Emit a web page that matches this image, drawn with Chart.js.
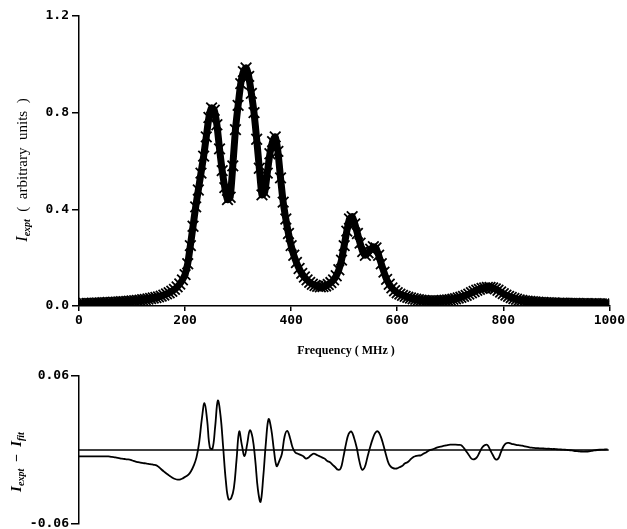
<!DOCTYPE html>
<html lang="en">

<head>
    <meta charset="UTF-8" />
    <title>Iexpt spectrum and residual</title>
    <script src="https://cdn.jsdelivr.net/npm/chart.js"></script>
    <style>
        body {
            margin: 0;
            background: #fff;
        }

        #wrap {
            position: relative;
            width: 627px;
            height: 529px;
            overflow: hidden;
        }

        canvas {
            position: absolute;
            left: 0;
        }
    </style>
</head>

<body>
    <div id="wrap">
        <canvas id="specChart" width="627" height="360" style="top:0"></canvas>
        <canvas id="residChart" width="627" height="185" style="top:360px"></canvas>
    </div>

    <script>
        // frequency (MHz), every 5 MHz
        const freqs = [
            0, 5, 10, 15, 20, 25, 30, 35, 40, 45, 50, 55, 60, 65, 70, 75, 80, 85, 90, 95,
            100, 105, 110, 115, 120, 125, 130, 135, 140, 145, 150, 155, 160, 165, 170, 175, 180, 185, 190, 195,
            200, 205, 210, 215, 220, 225, 230, 235, 240, 245, 250, 255, 260, 265, 270, 275, 280, 285, 290, 295,
            300, 305, 310, 315, 320, 325, 330, 335, 340, 345, 350, 355, 360, 365, 370, 375, 380, 385, 390, 395,
            400, 405, 410, 415, 420, 425, 430, 435, 440, 445, 450, 455, 460, 465, 470, 475, 480, 485, 490, 495,
            500, 505, 510, 515, 520, 525, 530, 535, 540, 545, 550, 555, 560, 565, 570, 575, 580, 585, 590, 595,
            600, 605, 610, 615, 620, 625, 630, 635, 640, 645, 650, 655, 660, 665, 670, 675, 680, 685, 690, 695,
            700, 705, 710, 715, 720, 725, 730, 735, 740, 745, 750, 755, 760, 765, 770, 775, 780, 785, 790, 795,
            800, 805, 810, 815, 820, 825, 830, 835, 840, 845, 850, 855, 860, 865, 870, 875, 880, 885, 890, 895,
            900, 905, 910, 915, 920, 925, 930, 935, 940, 945, 950, 955, 960, 965, 970, 975, 980, 985, 990, 995,
            1000
        ];

        // I_expt (arbitrary units)
        const intensity = [
            0.010, 0.010, 0.011, 0.011, 0.011, 0.012, 0.012, 0.013, 0.013, 0.014,
            0.014, 0.015, 0.015, 0.016, 0.016, 0.017, 0.018, 0.018, 0.019, 0.020,
            0.021, 0.022, 0.023, 0.024, 0.026, 0.027, 0.029, 0.031, 0.033, 0.035,
            0.038, 0.041, 0.045, 0.050, 0.055, 0.061, 0.069, 0.079, 0.091, 0.108,
            0.130, 0.175, 0.250, 0.330, 0.410, 0.480, 0.550, 0.620, 0.700, 0.780,
            0.820, 0.810, 0.750, 0.650, 0.560, 0.490, 0.440, 0.450, 0.580, 0.730,
            0.830, 0.920, 0.970, 0.985, 0.950, 0.880, 0.800, 0.690, 0.570, 0.460,
            0.470, 0.550, 0.630, 0.680, 0.700, 0.640, 0.530, 0.430, 0.360, 0.300,
            0.250, 0.210, 0.180, 0.155, 0.135, 0.120, 0.108, 0.098, 0.090, 0.085,
            0.081, 0.079, 0.080, 0.083, 0.089, 0.097, 0.108, 0.125, 0.150, 0.190,
            0.250, 0.310, 0.360, 0.370, 0.340, 0.300, 0.260, 0.225, 0.210, 0.220,
            0.235, 0.245, 0.240, 0.210, 0.175, 0.140, 0.110, 0.090, 0.075, 0.063,
            0.055, 0.049, 0.044, 0.040, 0.036, 0.033, 0.030, 0.028, 0.026, 0.024,
            0.023, 0.022, 0.021, 0.021, 0.021, 0.021, 0.022, 0.023, 0.024, 0.025,
            0.026, 0.028, 0.030, 0.033, 0.036, 0.040, 0.044, 0.049, 0.055, 0.060,
            0.065, 0.069, 0.073, 0.075, 0.077, 0.077, 0.075, 0.071, 0.065, 0.058,
            0.051, 0.045, 0.040, 0.035, 0.031, 0.028, 0.025, 0.023, 0.021, 0.020,
            0.019, 0.018, 0.017, 0.016, 0.015, 0.015, 0.014, 0.014, 0.013, 0.013,
            0.012, 0.012, 0.012, 0.012, 0.011, 0.011, 0.011, 0.011, 0.011, 0.010,
            0.010, 0.010, 0.010, 0.010, 0.010, 0.010, 0.009, 0.009, 0.009, 0.009,
            0.009
        ];

        // I_expt - I_fit, from 0 to 990 MHz
        const residual = [
            -0.0052, -0.0052, -0.0052, -0.0052, -0.0052, -0.0052, -0.0052, -0.0052, -0.0052, -0.0052,
            -0.0052, -0.0052, -0.0055, -0.0058, -0.0062, -0.0066, -0.0070, -0.0073, -0.0076, -0.0078,
            -0.0085, -0.0092, -0.0098, -0.0103, -0.0106, -0.0109, -0.0112, -0.0116, -0.0120, -0.0125,
            -0.0140, -0.0160, -0.0178, -0.0195, -0.0210, -0.0225, -0.0235, -0.0240, -0.0238, -0.0228,
            -0.0215, -0.0200, -0.0170, -0.0125, -0.0060, 0.0060, 0.0250, 0.0380, 0.0240, 0.0020,
            0.0010, 0.0190, 0.0400, 0.0280, 0.0020, -0.0250, -0.0400, -0.0390, -0.0310, -0.0080,
            0.0150, 0.0040, -0.0050, 0.0050, 0.0160, 0.0100, -0.0080, -0.0320, -0.0420, -0.0220,
            0.0060, 0.0250, 0.0170, 0.0000, -0.0130, -0.0090, -0.0030, 0.0110, 0.0155, 0.0100,
            0.0020, -0.0020, -0.0030, -0.0040, -0.0050, -0.0070, -0.0060, -0.0040, -0.0030, -0.0040,
            -0.0050, -0.0060, -0.0070, -0.0090, -0.0100, -0.0120, -0.0140, -0.0160, -0.0150, -0.0060,
            0.0050, 0.0130, 0.0150, 0.0100, 0.0020, -0.0090, -0.0160, -0.0140, -0.0060, 0.0020,
            0.0090, 0.0140, 0.0150, 0.0110, 0.0040, -0.0040, -0.0110, -0.0140, -0.0150, -0.0150,
            -0.0140, -0.0130, -0.0110, -0.0100, -0.0080, -0.0060, -0.0050, -0.0045, -0.0043, -0.0030,
            -0.0020, -0.0005, 0.0003, 0.0010, 0.0020, 0.0025, 0.0030, 0.0035, 0.0040, 0.0043,
            0.0043, 0.0043, 0.0042, 0.0040, 0.0020, -0.0010, -0.0040, -0.0070, -0.0075, -0.0060,
            -0.0020, 0.0020, 0.0040, 0.0040, 0.0000, -0.0040, -0.0075, -0.0070, -0.0020, 0.0030,
            0.0055, 0.0057, 0.0050, 0.0045, 0.0040, 0.0038, 0.0035, 0.0030, 0.0025, 0.0020,
            0.0018, 0.0016, 0.0015, 0.0013, 0.0012, 0.0010, 0.0010, 0.0008, 0.0008, 0.0006,
            0.0005, 0.0003, 0.0002, 0.0000, -0.0002, -0.0005, -0.0008, -0.0010, -0.0012, -0.0013,
            -0.0012, -0.0010, -0.0007, -0.0003, 0.0000, 0.0002, 0.0003, 0.0004, 0.0005
        ];

        // zero reference line of the residual panel
        const zeroLineX = [0, 992];
        const zeroLineY = [0, 0];

        const freqTicks = [0, 200, 400, 600, 800, 1000];
        const intensityTicks = [0, 0.4, 0.8, 1.2];
        const residualTicks = [-0.06, 0.06];

        const tickFont = { family: '"DejaVu Sans Mono"', weight: 'bold', size: 13 };
        const serif = '"Liberation Serif", "DejaVu Serif", serif';

        // draws text made of several pieces (main letter + subscript), optionally rotated
        function drawRich(ctx, parts, cx, cy, rotate) {
            ctx.save();
            ctx.translate(cx, cy);
            if (rotate) ctx.rotate(-Math.PI / 2);
            ctx.fillStyle = '#000';
            ctx.textBaseline = 'alphabetic';
            let total = 0;
            parts.forEach(p => {
                ctx.font = p.font;
                total += ctx.measureText(p.t).width;
            });
            let x = -total / 2;
            parts.forEach(p => {
                ctx.font = p.font;
                ctx.fillText(p.t, x, 5 + (p.dy || 0));
                x += ctx.measureText(p.t).width;
            });
            ctx.restore();
        }

        const specTitles = {
            id: 'specTitles',
            afterDraw(chart) {
                const ctx = chart.ctx;
                drawRich(ctx, [
                    { t: 'I', font: 'italic 16px ' + serif },
                    { t: 'expt', font: 'italic bold 10px ' + serif, dy: 3 },
                    { t: '  (  arbitrary  units  )', font: '15px ' + serif }
                ], 22, 170, true);
                drawRich(ctx, [
                    { t: 'Frequency ( MHz )', font: 'bold 12px ' + serif }
                ], 346, 349, false);
            }
        };

        const residTitles = {
            id: 'residTitles',
            afterDraw(chart) {
                drawRich(chart.ctx, [
                    { t: 'I', font: 'bold italic 15px ' + serif },
                    { t: 'expt', font: 'bold italic 10px ' + serif, dy: 3 },
                    { t: '  \u2212  ', font: 'bold 14px ' + serif },
                    { t: 'I', font: 'bold italic 15px ' + serif },
                    { t: 'fit', font: 'bold italic 10px ' + serif, dy: 3 }
                ], 16, 102, true);
            }
        };

        function axisGrid(len) {
            return { drawOnChartArea: false, drawTicks: true, tickLength: len, color: '#000', lineWidth: 1.5 };
        }

        new Chart(document.getElementById('specChart'), {
            type: 'line',
            data: {
                datasets: [{
                    data: freqs.map((f, i) => ({ x: f, y: intensity[i] })),
                    borderColor: '#000',
                    borderWidth: 7,
                    borderJoinStyle: 'round',
                    pointStyle: 'crossRot',
                    pointRadius: 7.5,
                    pointBorderWidth: 1.8,
                    pointBorderColor: '#000',
                    pointBackgroundColor: '#000',
                    tension: 0.2
                }]
            },
            options: {
                responsive: false,
                animation: false,
                events: [],
                layout: { padding: { left: 0, right: 14, top: 16, bottom: 0 } },
                plugins: { legend: { display: false }, tooltip: { enabled: false } },
                scales: {
                    x: {
                        type: 'linear',
                        min: 0,
                        max: 1000,
                        afterBuildTicks: s => { s.ticks = freqTicks.map(v => ({ value: v })); },
                        afterFit: s => { s.height = 54; },
                        grid: axisGrid(5),
                        border: { color: '#000', width: 1.5 },
                        ticks: { color: '#000', font: tickFont, padding: 2, maxRotation: 0, callback: v => String(v) }
                    },
                    y: {
                        min: 0,
                        max: 1.2,
                        afterBuildTicks: s => { s.ticks = intensityTicks.map(v => ({ value: v })); },
                        afterFit: s => { s.width = 79; },
                        grid: axisGrid(7),
                        border: { color: '#000', width: 1.5 },
                        ticks: { color: '#000', font: tickFont, padding: 3, callback: v => v.toFixed(1) }
                    }
                }
            },
            plugins: [specTitles]
        });

        new Chart(document.getElementById('residChart'), {
            type: 'line',
            data: {
                datasets: [{
                    data: residual.map((r, i) => ({ x: freqs[i], y: r })),
                    borderColor: '#000',
                    borderWidth: 1.8,
                    pointRadius: 0,
                    tension: 0.4
                }, {
                    data: zeroLineX.map((x, i) => ({ x: x, y: zeroLineY[i] })),
                    borderColor: '#000',
                    borderWidth: 1.5,
                    pointRadius: 0
                }]
            },
            options: {
                responsive: false,
                animation: false,
                events: [],
                layout: { padding: { left: 0, right: 14, top: 16, bottom: 21 } },
                plugins: { legend: { display: false }, tooltip: { enabled: false } },
                scales: {
                    x: { type: 'linear', min: 0, max: 1000, display: false },
                    y: {
                        min: -0.06,
                        max: 0.06,
                        afterBuildTicks: s => { s.ticks = residualTicks.map(v => ({ value: v })); },
                        afterFit: s => { s.width = 79; },
                        grid: axisGrid(8),
                        border: { color: '#000', width: 1.5 },
                        ticks: { color: '#000', font: tickFont, padding: 2, callback: v => v.toFixed(2) }
                    }
                }
            },
            plugins: [residTitles]
        });
    </script>
</body>

</html>
